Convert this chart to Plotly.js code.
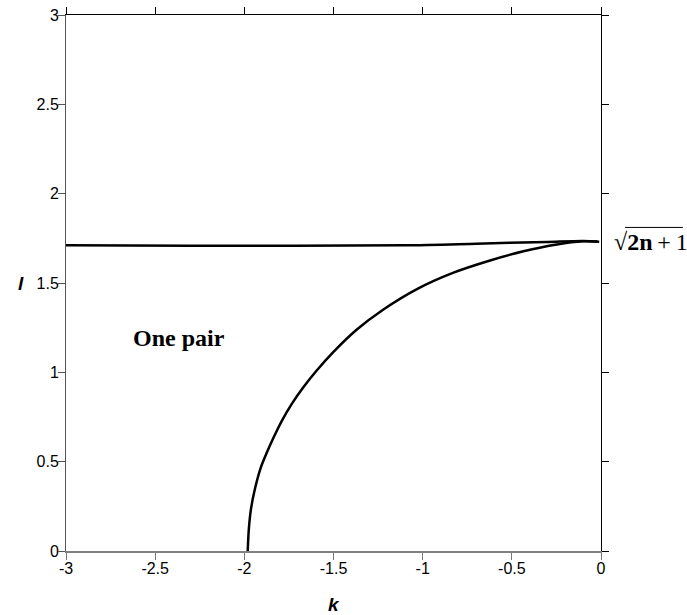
<!DOCTYPE html>
<html>
<head>
<meta charset="utf-8">
<script src="https://cdn.plot.ly/plotly-3.0.1.min.js"></script>
<style>html,body{margin:0;padding:0;background:#fff;}#chart{width:687px;height:615px;}</style>
</head>
<body>
<div id="chart"></div>
<script>
// Curve boundary (k, l)
var kCurve = [-1.981, -1.975, -1.962, -1.940, -1.910, -1.875, -1.836, -1.789, -1.733, -1.668, -1.593, -1.500, -1.369, -1.220, -1.032, -0.827, -0.622, -0.435, -0.248, -0.099, -0.02];
var lCurve = [0.000, 0.120, 0.240, 0.350, 0.460, 0.548, 0.635, 0.730, 0.825, 0.918, 1.012, 1.115, 1.240, 1.352, 1.466, 1.558, 1.626, 1.678, 1.716, 1.733, 1.732];
// Nearly horizontal line approaching sqrt(2n+1)
var kLine = [-3.0, -2.3, -1.1, -0.7, -0.3, -0.1, -0.01];
var lLine = [1.711, 1.708, 1.711, 1.720, 1.730, 1.735, 1.731];
var xTicks = [-3, -2.5, -2, -1.5, -1, -0.5, 0];
var xTickText = ["-3", "-2.5", "-2", "-1.5", "-1", "-0.5", "0"];
var yTicks = [0, 0.5, 1, 1.5, 2, 2.5, 3];
var yTickText = ["0", "0.5", "1", "1.5", "2", "2.5", "3"];

var traces = [
  {x: kLine, y: lLine, mode: 'lines', line: {color: '#000', width: 2.5, shape: 'spline', smoothing: 0.8}, hoverinfo: 'none'},
  {x: kCurve, y: lCurve, mode: 'lines', line: {color: '#000', width: 2.5, shape: 'spline', smoothing: 0.8}, hoverinfo: 'none'},
  {x: [-3, 0], y: [0, 3], xaxis: 'x2', yaxis: 'y2', mode: 'markers', marker: {opacity: 0}, hoverinfo: 'none'},
  {x: [-3, 0], y: [0, 3], xaxis: 'x3', yaxis: 'y3', mode: 'markers', marker: {opacity: 0}, hoverinfo: 'none'}
];

var tickFont = {family: 'Liberation Sans, Arial, sans-serif', size: 16, color: '#000'};

var layout = {
  width: 687, height: 615,
  margin: {l: 66, r: 86, t: 15, b: 64},
  paper_bgcolor: '#fff', plot_bgcolor: '#fff',
  showlegend: false,
  xaxis: {
    range: [-3, 0], tickvals: xTicks, ticktext: xTickText,
    anchor: 'free', position: 0,
    ticks: 'outside', ticklen: 3, tickcolor: 'rgba(0,0,0,0)', showline: false,
    showgrid: false, zeroline: false, tickfont: tickFont
  },
  yaxis: {
    range: [0, 3], tickvals: yTicks, ticktext: yTickText,
    anchor: 'free', position: 0,
    ticks: 'outside', ticklen: 4, tickcolor: 'rgba(0,0,0,0)', showline: false,
    showgrid: false, zeroline: false, tickfont: tickFont
  },
  xaxis2: {
    range: [-3, 0], tickvals: xTicks, showticklabels: false, overlaying: 'x', side: 'top', anchor: 'y2',
    ticks: 'outside', ticklen: 7, tickcolor: '#000', tickwidth: 1,
    showline: true, linecolor: '#000', linewidth: 1.2, showgrid: false, zeroline: false
  },
  yaxis2: {
    range: [0, 3], tickvals: yTicks, showticklabels: false, overlaying: 'y', side: 'right', anchor: 'x2',
    ticks: 'outside', ticklen: 7, tickcolor: '#000', tickwidth: 1,
    showline: true, linecolor: '#000', linewidth: 1.2, showgrid: false, zeroline: false
  },
  xaxis3: {
    range: [-3, 0], tickvals: xTicks, showticklabels: false, overlaying: 'x', side: 'bottom', anchor: 'y3',
    ticks: 'outside', ticklen: 7, tickcolor: '#777', tickwidth: 1,
    showline: true, linecolor: '#808080', linewidth: 1.5, showgrid: false, zeroline: false
  },
  yaxis3: {
    range: [0, 3], tickvals: yTicks, showticklabels: false, overlaying: 'y', side: 'left', anchor: 'x3',
    ticks: 'outside', ticklen: 7, tickcolor: '#555', tickwidth: 1,
    showline: true, linecolor: '#555', linewidth: 1.2, showgrid: false, zeroline: false
  },
  annotations: [
    {text: '<b><i>k</i></b>', xref: 'paper', yref: 'paper', x: 0.5, y: -0.0995, yanchor: 'middle', showarrow: false,
     font: {family: 'Liberation Sans, Arial, sans-serif', size: 19, color: '#000'}},
    {text: '<b><i>l</i></b>', xref: 'paper', yref: 'paper', x: -0.085, y: 0.5, xanchor: 'center', yanchor: 'middle', showarrow: false,
     font: {family: 'Liberation Sans, Arial, sans-serif', size: 19, color: '#000'}},
    {text: '<b>One pair</b>', xref: 'x', yref: 'y', x: -2.364, y: 1.19, showarrow: false,
     font: {family: 'Liberation Serif, Times New Roman, serif', size: 24, color: '#000'}},
    {text: '√<b>2n</b>\u2009+\u20091', xref: 'paper', yref: 'y', x: 1.02, y: 1.73, xanchor: 'left', yanchor: 'middle', showarrow: false,
     font: {family: 'Liberation Serif, Times New Roman, serif', size: 24, color: '#000'}}
  ],
  shapes: [
    {type: 'line', xref: 'paper', yref: 'y', x0: 1.045, x1: 1.153, y0: 1.811, y1: 1.811, line: {color: '#000', width: 1}}
  ]
};

Plotly.newPlot('chart', traces, layout, {displayModeBar: false, staticPlot: true});
</script>
</body>
</html>
